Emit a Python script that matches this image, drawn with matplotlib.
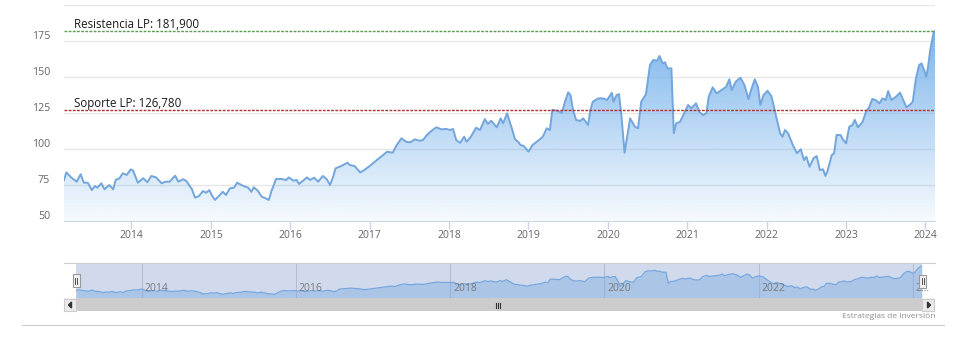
import numpy as np
import matplotlib
matplotlib.use("Agg")
import matplotlib.pyplot as plt
from matplotlib.colors import to_rgb
from matplotlib.patches import Rectangle, Polygon
from matplotlib.transforms import ScaledTranslation, blended_transform_factory

plt.rcParams['font.family'] = ['Open Sans', 'DejaVu Sans']

# weekly-ish closes (decimal years)
dates = [
    2013.15, 2013.18, 2013.24, 2013.31, 2013.36, 2013.40, 2013.45, 2013.50, 2013.54, 2013.57,
    2013.62, 2013.66, 2013.72, 2013.77, 2013.80, 2013.85, 2013.89, 2013.94, 2013.99, 2014.02,
    2014.08, 2014.15, 2014.20, 2014.25, 2014.31, 2014.38, 2014.43, 2014.48, 2014.55, 2014.59,
    2014.65, 2014.69, 2014.76, 2014.80, 2014.85, 2014.90, 2014.94, 2014.98, 2015.01, 2015.05,
    2015.10, 2015.15, 2015.19, 2015.24, 2015.29, 2015.33, 2015.41, 2015.47, 2015.51, 2015.54,
    2015.59, 2015.64, 2015.69, 2015.73, 2015.76, 2015.82, 2015.89, 2015.95, 2015.98, 2016.04,
    2016.08, 2016.11, 2016.16, 2016.21, 2016.25, 2016.30, 2016.35, 2016.41, 2016.46, 2016.50,
    2016.54, 2016.57, 2016.64, 2016.72, 2016.75, 2016.81, 2016.88, 2016.92, 2017.00, 2017.09,
    2017.17, 2017.22, 2017.29, 2017.34, 2017.40, 2017.46, 2017.51, 2017.57, 2017.63, 2017.67,
    2017.72, 2017.78, 2017.84, 2017.90, 2017.97, 2018.01, 2018.05, 2018.09, 2018.14, 2018.19,
    2018.22, 2018.27, 2018.34, 2018.39, 2018.45, 2018.49, 2018.53, 2018.60, 2018.65, 2018.68,
    2018.73, 2018.79, 2018.83, 2018.87, 2018.90, 2018.94, 2019.00, 2019.05, 2019.12, 2019.18,
    2019.23, 2019.27, 2019.30, 2019.36, 2019.42, 2019.46, 2019.50, 2019.53, 2019.56, 2019.60,
    2019.65, 2019.69, 2019.75, 2019.78, 2019.81, 2019.88, 2019.94, 2019.99, 2020.05, 2020.07,
    2020.11, 2020.14, 2020.17, 2020.21, 2020.24, 2020.28, 2020.34, 2020.38, 2020.42, 2020.48,
    2020.53, 2020.57, 2020.62, 2020.65, 2020.69, 2020.72, 2020.75, 2020.80, 2020.83, 2020.86,
    2020.91, 2020.97, 2021.01, 2021.05, 2021.11, 2021.15, 2021.20, 2021.24, 2021.27, 2021.32,
    2021.37, 2021.43, 2021.49, 2021.53, 2021.56, 2021.61, 2021.67, 2021.72, 2021.77, 2021.81,
    2021.85, 2021.89, 2021.92, 2021.96, 2022.01, 2022.06, 2022.12, 2022.17, 2022.20, 2022.23,
    2022.27, 2022.33, 2022.38, 2022.43, 2022.47, 2022.50, 2022.54, 2022.59, 2022.63, 2022.67,
    2022.71, 2022.74, 2022.77, 2022.82, 2022.85, 2022.88, 2022.93, 2022.96, 2023.00, 2023.04,
    2023.08, 2023.11, 2023.15, 2023.21, 2023.25, 2023.29, 2023.33, 2023.37, 2023.42, 2023.46,
    2023.50, 2023.53, 2023.57, 2023.63, 2023.68, 2023.72, 2023.76, 2023.80, 2023.84, 2023.88,
    2023.92, 2023.95, 2023.99, 2024.01, 2024.03, 2024.06, 2024.10, 2024.12,
]
prices = [
    78.2, 83.5, 80.0, 77.0, 82.2, 76.3, 76.3, 71.2, 74.0, 72.8,
    75.9, 71.7, 74.7, 71.7, 78.2, 79.4, 82.9, 81.7, 85.6, 84.7,
    76.3, 79.4, 76.6, 81.0, 80.0, 75.9, 77.0, 77.0, 81.2, 77.0,
    78.7, 77.5, 71.9, 65.9, 67.0, 70.5, 69.3, 71.2, 67.7, 64.3,
    67.0, 70.0, 67.7, 72.4, 72.8, 76.3, 74.0, 72.8, 70.0, 73.1,
    70.8, 66.6, 65.4, 64.3, 70.0, 78.9, 78.9, 78.2, 80.0, 77.7,
    78.2, 75.4, 77.7, 80.0, 78.2, 79.8, 77.0, 81.0, 78.7, 74.7,
    80.5, 86.3, 87.9, 90.2, 88.6, 87.9, 83.5, 84.7, 87.9, 92.1,
    95.6, 97.9, 97.2, 102.5, 107.2, 104.8, 104.4, 106.5, 105.5, 106.0,
    109.5, 112.5, 114.9, 113.5, 113.7, 113.0, 113.7, 106.0, 104.1, 108.3,
    104.8, 107.9, 114.6, 113.0, 120.6, 117.2, 119.5, 114.9, 121.1, 117.6,
    124.6, 114.2, 106.5, 104.8, 102.5, 101.9, 97.9, 102.5, 105.5, 108.3,
    114.2, 113.0, 127.0, 126.4, 125.0, 132.7, 139.2, 137.3, 127.0, 120.0,
    119.3, 121.1, 116.5, 126.9, 132.7, 135.0, 135.0, 133.9, 138.9, 132.7,
    137.3, 138.0, 123.4, 97.2, 107.2, 121.1, 115.3, 114.2, 132.7, 138.0,
    158.2, 161.7, 161.2, 164.5, 159.4, 160.1, 155.9, 155.9, 110.7, 117.6,
    118.8, 125.7, 130.4, 128.1, 131.6, 125.7, 123.4, 124.6, 136.2, 142.7,
    138.5, 140.8, 143.1, 148.3, 140.8, 146.6, 149.4, 144.3, 134.6, 142.0,
    148.3, 143.1, 130.4, 137.3, 140.3, 136.6, 122.2, 110.7, 108.3, 113.0,
    110.7, 102.5, 96.8, 99.6, 92.1, 94.4, 87.4, 93.3, 94.9, 85.1,
    85.6, 81.0, 85.1, 95.6, 96.8, 109.5, 109.5, 106.5, 103.7, 115.3,
    116.5, 120.0, 114.9, 118.8, 125.7, 128.8, 134.6, 133.9, 131.6, 135.0,
    133.9, 140.1, 133.9, 136.2, 139.0, 133.9, 128.8, 130.4, 132.7, 149.0,
    158.2, 159.4, 153.6, 150.1, 156.0, 168.7, 180.3, 181.9,
]

resistance = 181.9
support = 126.78
levels = [("Resistencia LP: 181,900", resistance, "#5a9e4b"),
          ("Soporte LP: 126,780", support, "#b03030")]

year_ticks = list(range(2014, 2025))
y_ticks = [50, 75, 100, 125, 150, 175]
nav_years = [2014, 2016, 2018, 2020, 2022, 2024]
nav_labels = ["2014", "2016", "2018", "2020", "2022", "2\u2026"]

W, H = 970, 353
fig = plt.figure(figsize=(W / 100, H / 100), dpi=100)

def box(x0, y0, x1, y1):
    # pixel box (top-left origin) -> figure fraction
    return [x0 / W, 1 - y1 / H, (x1 - x0) / W, (y1 - y0) / H]

blue = "#7cb5ec"
line_col = "#72a6dc"

# ---- main chart ----
ax = fig.add_axes(box(64, 5, 935, 220.5))
x0, x1 = dates[0], dates[-1]
frac = np.linspace(0, 1, 256)
img = np.zeros((256, 1, 4))
img[..., :3] = to_rgb(blue)
img[:, 0, 3] = np.clip(1.12 - 1.05 * frac, 0, 1)
im = ax.imshow(img, extent=[x0, x1, 50, 200], aspect="auto", origin="upper", zorder=1)
poly = ax.fill_between(dates, prices, 50, color="none", lw=0)
im.set_clip_path(poly.get_paths()[0], transform=ax.transData)
ax.plot(dates, prices, color=line_col, lw=1.4, zorder=3)

for text, lvl, col in levels:
    ax.axhline(lvl, color=col, lw=1, ls=(0, (2, 1)), zorder=4)
    ax.annotate(text, xy=(0, lvl), xycoords=blended_transform_factory(ax.transAxes, ax.transData),
                xytext=(7.3, 2.3), textcoords="offset points", fontsize=8.3,
                color="#1a1a1a", va="baseline", ha="left", zorder=5)

ax.set_xlim(x0, x1)
ax.set_ylim(50, 200)
ax.set_yticks(y_ticks + [200])
ax.set_yticklabels([str(v) for v in y_ticks] + [""])
ax.set_xticks(year_ticks)
ax.set_xticklabels([str(y) for y in year_ticks])
ax.grid(axis="y", color="#e6e6e6", lw=1)
ax.set_axisbelow(True)
for s in ["top", "right", "left"]:
    ax.spines[s].set_visible(False)
ax.spines["bottom"].set_color("#ccd6eb")
ax.tick_params(axis="y", length=0, pad=10, labelsize=7.7, labelcolor="#666666")
ax.tick_params(axis="x", length=6, width=1, color="#ccd6eb", pad=0.5,
               labelsize=7.5, labelcolor="#666666")
up = ScaledTranslation(0, 0.055, fig.dpi_scale_trans)
for lab in ax.get_yticklabels():
    lab.set_transform(lab.get_transform() + up)

# ---- navigator ----
nav = fig.add_axes(box(76, 263, 922, 298))
nav.fill_between(dates, prices, 0, color=blue, alpha=0.4, lw=0)
nav.plot(dates, prices, color=blue, lw=0.9)
for yr in nav_years:
    nav.axvline(yr, color="#d8d8d8", lw=0.8, zorder=0)
nav.axvspan(x0, x1, color=(102 / 255, 133 / 255, 194 / 255, 0.3), lw=0, zorder=4)
for yr, lab in zip(nav_years, nav_labels):
    nav.annotate(lab, xy=(yr, 0), xycoords=blended_transform_factory(nav.transData, nav.transAxes),
                 xytext=(2.2, 3.2), textcoords="offset points", fontsize=7.5,
                 color="#7a7a7a", ha="left", va="bottom", zorder=5)
nav.set_xlim(x0, x1)
nav.set_ylim(49, 194)
nav.axis("off")

# ---- scrollbar, handles, frame (pixel overlay) ----
ov = fig.add_axes([0, 0, 1, 1], zorder=10)
ov.set_xlim(0, W)
ov.set_ylim(H, 0)
ov.axis("off")
ov.plot([64, 935], [263, 263], color="#cccccc", lw=0.8)
ov.add_patch(Rectangle((64, 298), 871, 13, color="#f2f2f2", lw=0))
ov.add_patch(Rectangle((76, 298), 846, 13, color="#cccccc", lw=0))
for bx in (64, 922):
    ov.add_patch(Rectangle((bx, 298.5), 12.5, 12, facecolor="#ebebeb", edgecolor="#cccccc", lw=0.8))
ov.add_patch(Polygon([[71.5, 302], [71.5, 308], [68.5, 305]], color="#333333"))
ov.add_patch(Polygon([[927.5, 302], [927.5, 308], [930.5, 305]], color="#333333"))
for gx in (496.5, 498.5, 500.5):
    ov.plot([gx, gx], [302.5, 307.5], color="#333333", lw=0.8)
for hx, hy in ((76.3, 274), (922.7, 274.5)):
    ov.add_patch(Rectangle((hx - 3.5, hy), 7, 13, facecolor="#f2f2f2", edgecolor="#999999", lw=0.8))
    for gx in (hx - 1, hx + 1):
        ov.plot([gx, gx], [hy + 3.5, hy + 9.5], color="#333333", lw=0.6)
ov.plot([22, 944], [325.3, 325.3], color="#cccccc", lw=0.8)
ov.text(935, 317, "Estrategias de Inversión", fontsize=6, color="#909090",
        ha="right", va="center")

fig.savefig("out.png", dpi=100)
